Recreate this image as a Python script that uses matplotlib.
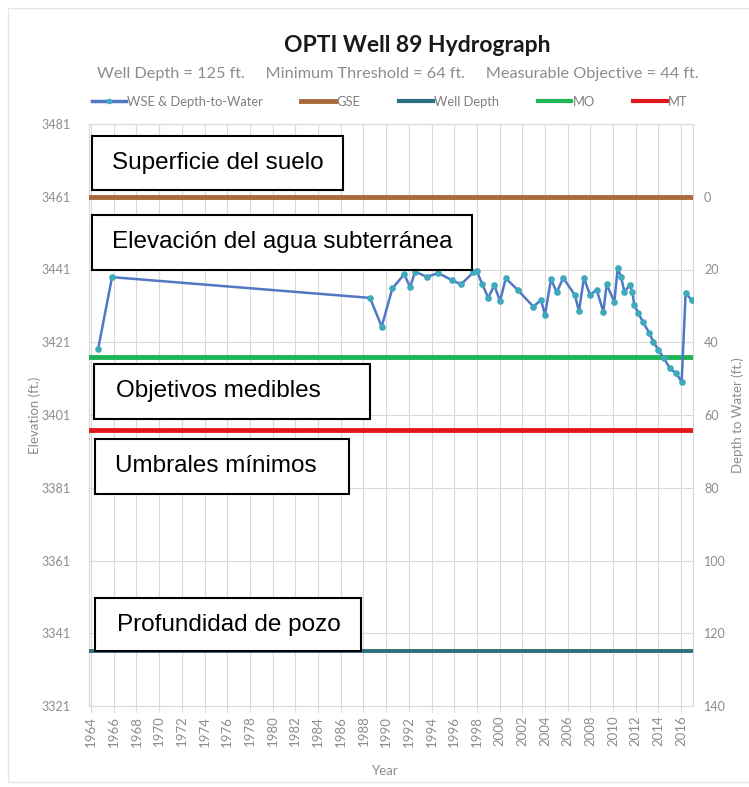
import matplotlib
matplotlib.use("Agg")
import matplotlib.pyplot as plt
from matplotlib.patches import Rectangle
from matplotlib.lines import Line2D

# ---------------- data ----------------
years = [1964.62, 1965.85, 1988.58, 1989.61, 1990.55, 1991.60, 1992.11, 1992.55,
         1993.58, 1994.60, 1995.78, 1996.60, 1997.68, 1997.98, 1998.48, 1999.00,
         1999.53, 2000.04, 2000.54, 2001.59, 2002.97, 2003.65, 2004.00, 2004.53,
         2005.03, 2005.61, 2006.64, 2006.99, 2007.43, 2007.96, 2008.55, 2009.14,
         2009.43, 2010.11, 2010.40, 2010.70, 2010.99, 2011.49, 2011.69, 2011.87,
         2012.22, 2012.63, 2013.19, 2013.54, 2013.98, 2014.48, 2015.01, 2015.54,
         2016.04, 2016.39, 2016.92]
wse = [3419.1, 3438.9, 3433.2, 3425.3, 3435.8, 3439.7, 3436.1, 3440.4,
       3439.0, 3440.0, 3438.1, 3436.9, 3440.2, 3440.6, 3436.9, 3433.2,
       3436.7, 3432.3, 3438.6, 3435.4, 3430.8, 3432.6, 3428.5, 3438.4,
       3434.7, 3438.7, 3433.9, 3429.5, 3438.7, 3434.0, 3435.4, 3429.4,
       3436.9, 3432.1, 3441.3, 3439.0, 3434.9, 3436.7, 3434.9, 3431.2,
       3429.0, 3426.6, 3423.5, 3421.2, 3418.9, 3416.6, 3413.8, 3412.5,
       3410.2, 3434.5, 3432.6]

gse_elev = 3461          # ground surface elevation (ft)
well_depth = 125         # ft below GSE
min_threshold = 64       # ft below GSE
meas_objective = 44      # ft below GSE

elev_ticks = [3321, 3341, 3361, 3381, 3401, 3421, 3441, 3461, 3481]
depth_ticks = [0, 20, 40, 60, 80, 100, 120, 140]
year_ticks = list(range(1964, 2017, 2))

legend_labels = ["WSE & Depth-to-Water", "GSE", "Well Depth", "MO", "MT"]
box_texts = ["Superficie del suelo", "Elevación del agua subterránea",
             "Objetivos medibles", "Umbrales mínimos", "Profundidad de pozo"]

# ---------------- style ----------------
C_WSE = "#5078c4"
C_MARK = "#3fa9bd"
C_GSE = "#a86a3c"
C_WELL = "#2f6f7d"
C_MO = "#1fb556"
C_MT = "#e0191e"
GRID = "#d9d9d9"
TXT = "#8c8c8c"
FONT = "Lato"

W, H = 749, 787
fig = plt.figure(figsize=(W / 100, H / 100), dpi=100)
L, R, T, B = 89, 693, 124, 706
ax = fig.add_axes([L / W, 1 - B / H, (R - L) / W, (B - T) / H])

ax.set_xlim(1963.82, 2017.04)
ax.set_ylim(elev_ticks[0], elev_ticks[-1])
ax.set_yticks(elev_ticks)
ax.set_xticks(year_ticks)
ax.set_xticklabels([str(y) for y in year_ticks], rotation=90, fontsize=9.5,
                   color=TXT, family=FONT)
ax.set_yticklabels([str(v) for v in elev_ticks], fontsize=9, color=TXT, family=FONT)
ax.tick_params(axis="y", length=0, pad=13)
ax.tick_params(axis="x", length=4, color=GRID, pad=3)
ax.grid(True, color=GRID, linewidth=0.8)
ax.set_axisbelow(True)
for s in ax.spines.values():
    s.set_color(GRID)
    s.set_linewidth(0.8)

# reference lines
ax.axhline(gse_elev, color=C_GSE, lw=3.5, zorder=3)
ax.axhline(gse_elev - well_depth, color=C_WELL, lw=2.8, zorder=3)
ax.axhline(gse_elev - meas_objective, color=C_MO, lw=3.5, zorder=3)
ax.axhline(gse_elev - min_threshold, color=C_MT, lw=3.5, zorder=3)

# WSE series
ax.plot(years, wse, color=C_WSE, lw=1.8, marker="o", ms=3.8,
        mfc=C_MARK, mec=C_MARK, zorder=4)

ax.set_xlabel("Year", fontsize=9.5, color=TXT, family=FONT)
ax.xaxis.set_label_coords(0.49, -0.102)
ax.set_ylabel("Elevation (ft.)", fontsize=9.5, color=TXT, family=FONT)
ax.yaxis.set_label_coords(-0.08, 0.5)

# right axis: depth to water
ax2 = ax.twinx()
ax2.set_ylim(gse_elev - elev_ticks[0], gse_elev - elev_ticks[-1])
ax2.set_yticks(depth_ticks)
ax2.set_yticklabels([str(v) for v in depth_ticks], fontsize=9, color=TXT, family=FONT)
ax2.tick_params(axis="y", length=0, pad=8)
for s in ax2.spines.values():
    s.set_visible(False)
ax2.set_ylabel("Depth to Water (ft.)", fontsize=9.5, color=TXT, family=FONT)
ax2.yaxis.set_label_coords(1.064, 0.5)

# title, subtitle, legend
fig.text(417 / W, 1 - 46 / H, "OPTI Well 89 Hydrograph", ha="center", va="center",
         fontsize=16.5, fontweight="bold", color="#1a1a1a", family=FONT)
fig.text(398 / W, 1 - 74 / H,
         "Well Depth = 125 ft.     Minimum Threshold = 64 ft.     Measurable Objective = 44 ft.",
         ha="center", va="center", fontsize=11.7, color=TXT, family=FONT)
handles = [Line2D([], [], color=C_WSE, lw=2.5, marker="o", ms=3, mfc=C_MARK, mec=C_MARK),
           Line2D([], [], color=C_GSE, lw=3.5),
           Line2D([], [], color=C_WELL, lw=3),
           Line2D([], [], color=C_MO, lw=3),
           Line2D([], [], color=C_MT, lw=3)]
leg = fig.legend(handles, legend_labels, loc="center", bbox_to_anchor=(390 / W, 1 - 102 / H),
                 ncol=5, frameon=False, handlelength=2.6, handletextpad=0.1,
                 columnspacing=3.0, prop={"family": FONT, "size": 9.3})
for t in leg.get_texts():
    t.set_color("#7f7f7f")

# annotation boxes (pixel positions converted to axes fractions)
boxes = [(92, 343, 136, 190, 112), (92, 472, 215, 270, 112), (94, 370, 364, 419, 116),
         (95, 349, 439, 494, 115), (95, 361, 598, 651, 117)]
for (x0, x1, y0, y1, tx), txt in zip(boxes, box_texts):
    fx0 = (x0 - L) / (R - L)
    fx1 = (x1 - L) / (R - L)
    fy0 = 1 - (y1 - T) / (B - T)
    fy1 = 1 - (y0 - T) / (B - T)
    ax.add_patch(Rectangle((fx0, fy0), fx1 - fx0, fy1 - fy0, transform=ax.transAxes,
                           facecolor="white", edgecolor="black", lw=1.5, zorder=6,
                           clip_on=False))
    ax.text((tx - L) / (R - L), (fy0 + fy1) / 2, txt, transform=ax.transAxes,
            ha="left", va="center", fontsize=17.5, family="Liberation Sans",
            color="black", zorder=7)

# faint chart border
fig.add_artist(Rectangle((8 / W, 5 / H), 1.0, 1 - 13 / H, transform=fig.transFigure,
                         facecolor="none", edgecolor="#e6e6e6", lw=1))

fig.savefig("out.png", dpi=100)
